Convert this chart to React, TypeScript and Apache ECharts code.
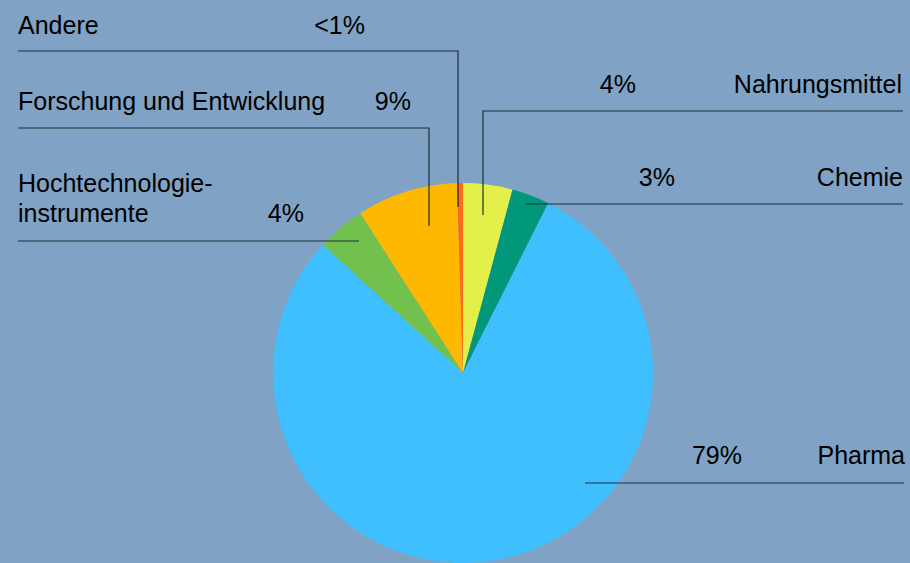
import React, { useEffect, useRef } from "react";
import * as echarts from "echarts";

// Data (clockwise from 12 o'clock)
const categories = ["Nahrungsmittel", "Chemie", "Pharma", "Hochtechnologie-\ninstrumente", "Forschung und Entwicklung", "Andere"];
const shares = [4.2, 3.2, 79.4, 4.1, 8.6, 0.5];
const shareLabels = ["4%", "3%", "79%", "4%", "9%", "<1%"];
const colors = ["#e3f04a", "#00977a", "#40bfff", "#72c14f", "#ffb800", "#ff6a1a"];

// Annotation layout (leader lines & text anchors)
const leaderLines: number[][][] = [
  [[483, 215], [483, 111], [903, 111]],
  [[526, 204], [903, 204]],
  [[585, 483], [904, 483]],
  [[359, 241], [18, 241]],
  [[429, 226], [429, 128], [18, 128]],
  [[458, 207], [458, 51], [18, 51]],
];
// name: [x, baselineY of last line, align]; pct: [rightX, baselineY]
const nameAnchors: [number, number, string][] = [
  [902, 93, "right"],
  [903, 186, "right"],
  [905, 464, "right"],
  [18, 222, "left"],
  [18, 110, "left"],
  [18, 34, "left"],
];
const pctAnchors: [number, number][] = [
  [636, 93],
  [675, 186],
  [742, 464],
  [304, 222],
  [411, 110],
  [365, 34],
];

const FONT = "'Liberation Sans', Arial, sans-serif";
const FS = 25;

export default function App() {
  const ref = useRef<HTMLDivElement>(null);
  useEffect(() => {
    document.body.style.margin = "0";
    const chart = echarts.init(ref.current!, null, { renderer: "svg" });
    const graphics: any[] = [];
    leaderLines.forEach((pts) => {
      graphics.push({
        type: "polyline",
        z: 10,
        silent: true,
        shape: { points: pts },
        style: { stroke: "#1f2d3a", lineWidth: 1.2, fill: null },
      });
    });
    categories.forEach((c, i) => {
      const [nx, ny, align] = nameAnchors[i];
      graphics.push({
        type: "text",
        z: 10,
        x: nx,
        y: ny + 6,
        style: {
          text: c,
          font: `${FS}px ${FONT}`,
          fill: "#000",
          align,
          verticalAlign: "bottom",
          lineHeight: 30,
        },
      });
      const [px, py] = pctAnchors[i];
      graphics.push({
        type: "text",
        z: 10,
        x: px,
        y: py + 6,
        style: {
          text: shareLabels[i],
          font: `${FS}px ${FONT}`,
          fill: "#000",
          align: "right",
          verticalAlign: "bottom",
          lineHeight: 30,
        },
      });
    });
    chart.setOption({
      animation: false,
      backgroundColor: "#7fa2c5",
      series: [
        {
          type: "pie",
          center: [463, 373],
          radius: 190,
          startAngle: 90,
          clockwise: true,
          label: { show: false },
          labelLine: { show: false },
          silent: true,
          data: categories.map((c, i) => ({
            name: c,
            value: shares[i],
            itemStyle: { color: colors[i], borderWidth: 0 },
          })),
        },
      ],
      graphic: graphics,
    });
    return () => chart.dispose();
  }, []);
  return <div ref={ref} style={{ width: 910, height: 563 }} />;
}
